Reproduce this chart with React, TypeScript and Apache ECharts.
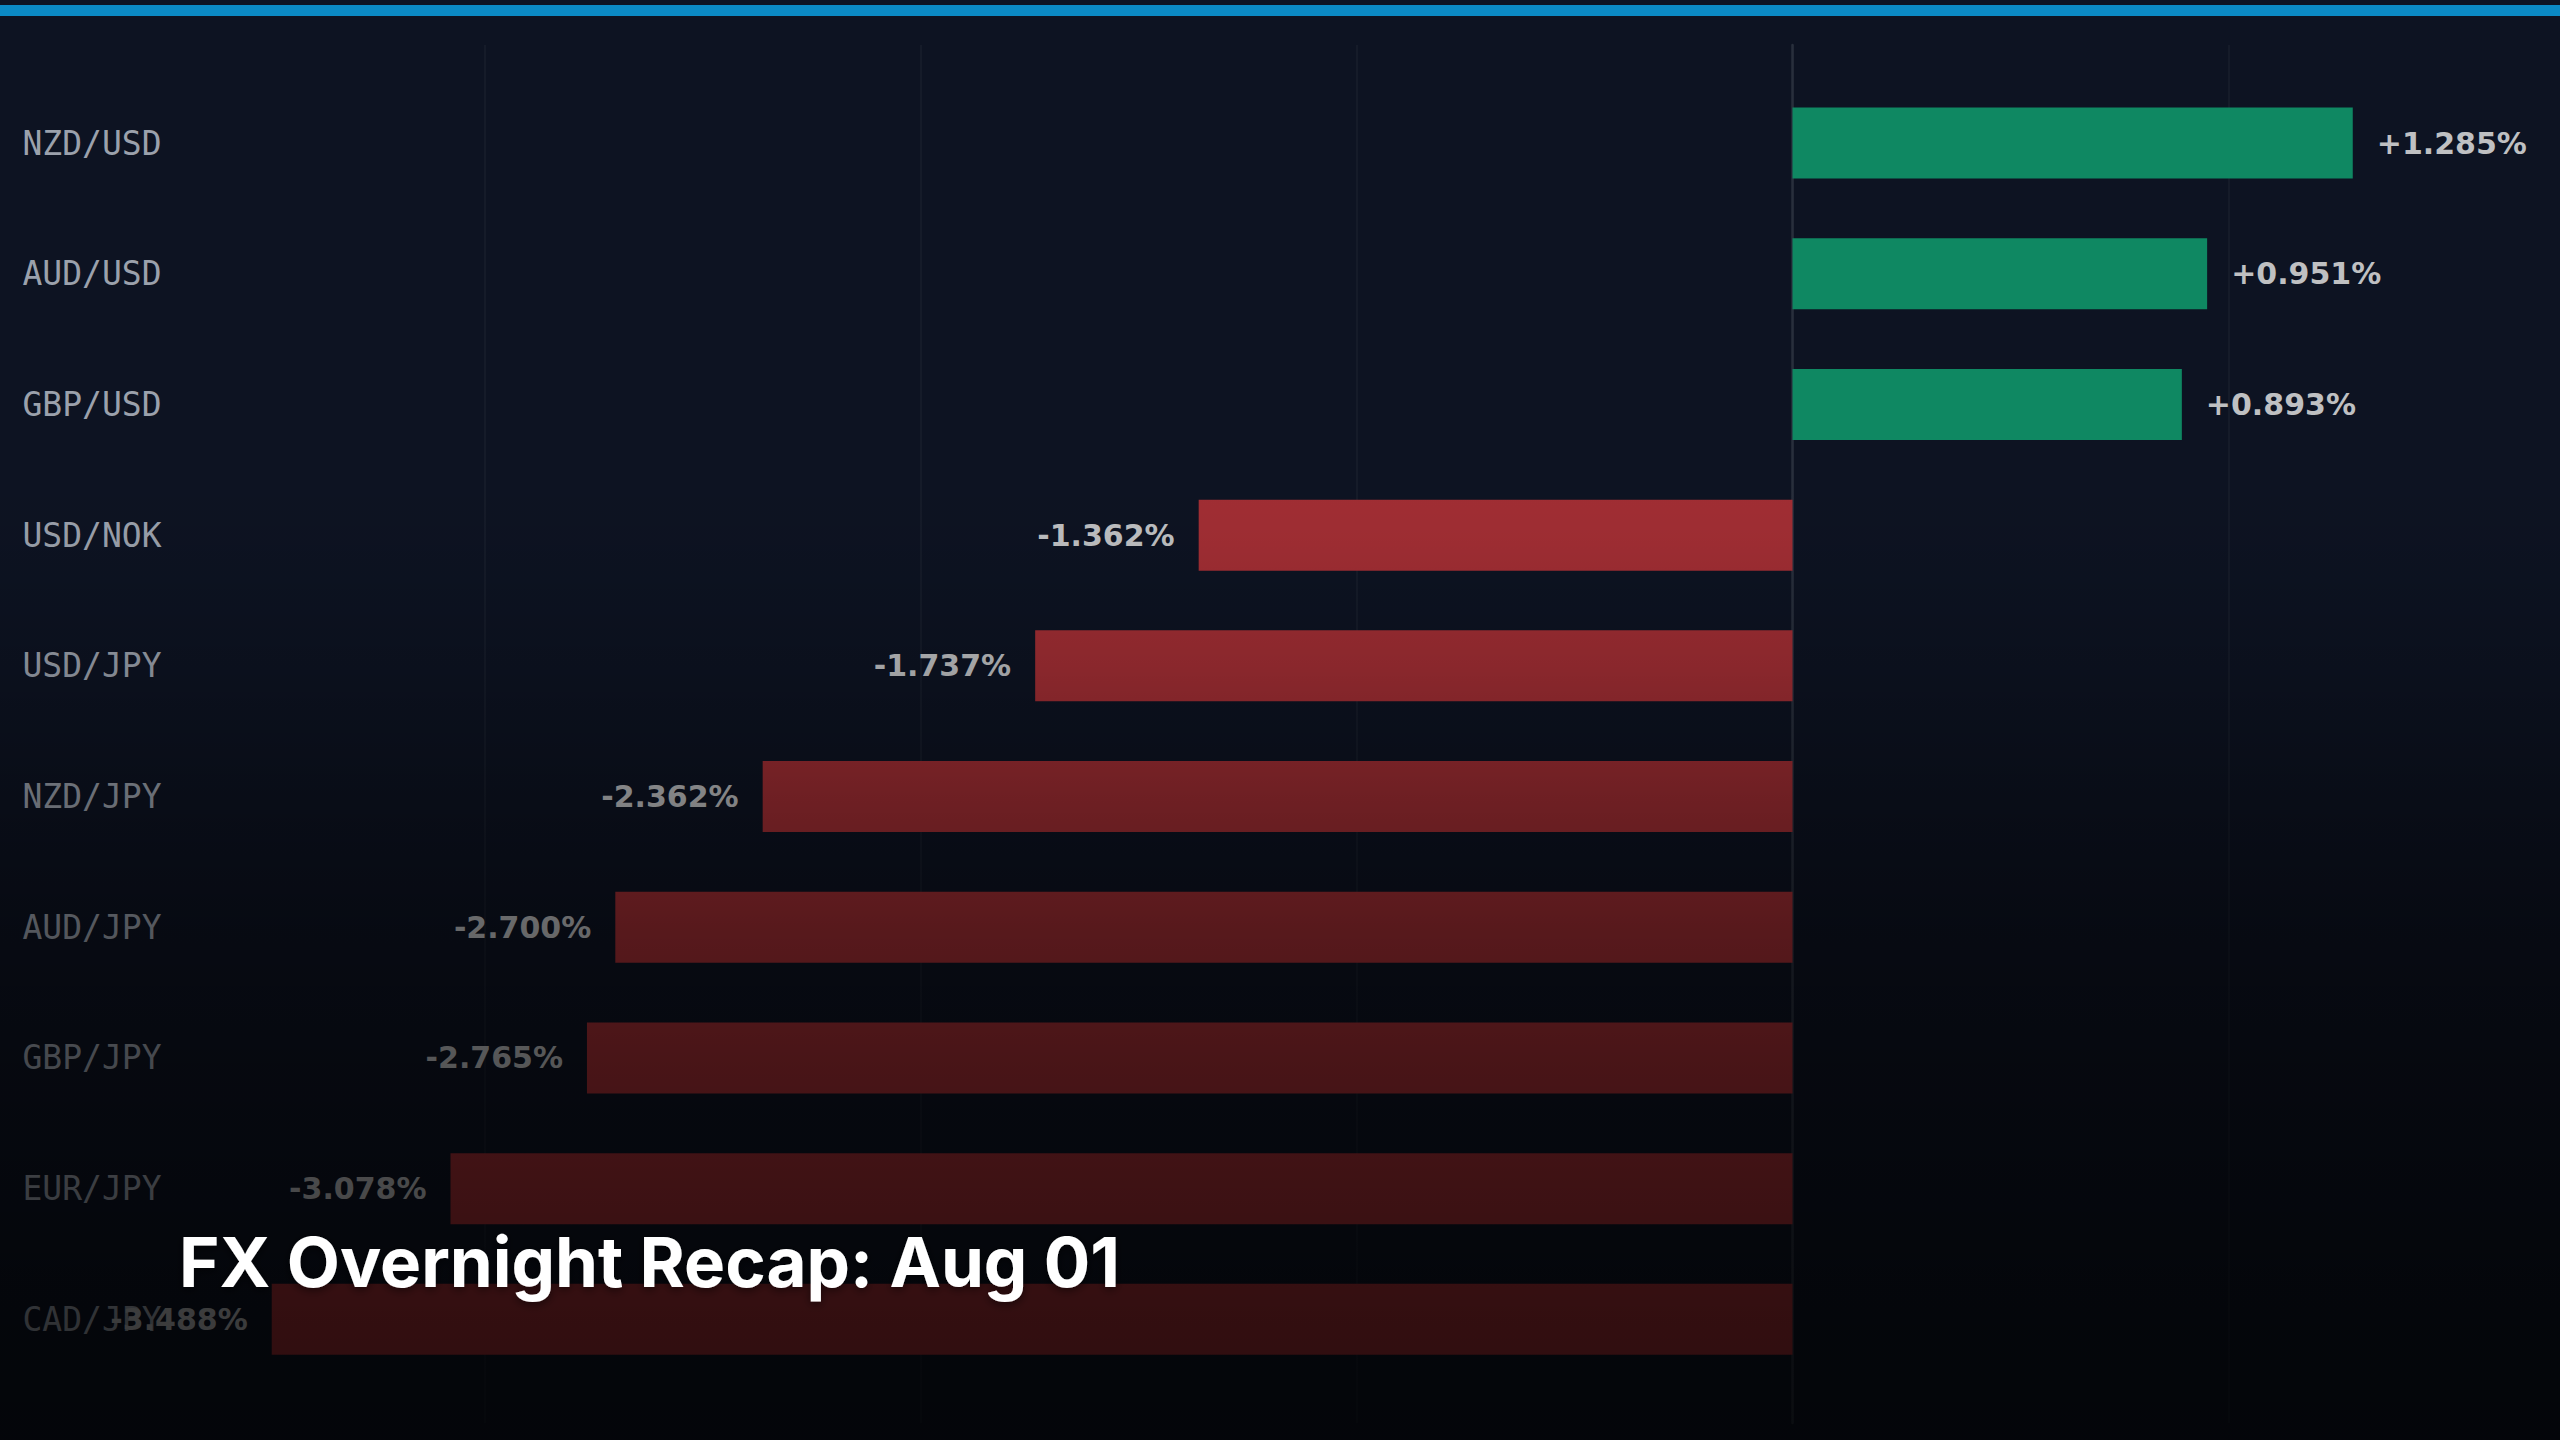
import React, { useEffect, useRef } from "react";
import * as echarts from "echarts";

const categories = [
  "NZD/USD",
  "AUD/USD",
  "GBP/USD",
  "USD/NOK",
  "USD/JPY",
  "NZD/JPY",
  "AUD/JPY",
  "GBP/JPY",
  "EUR/JPY",
  "CAD/JPY",
];
const changes = [1.285, 0.951, 0.893, -1.362, -1.737, -2.362, -2.7, -2.765, -3.078, -3.488];
const axisMin = -4;
const axisMax = 1.75;
const axisStep = 1;
const titleText = "FX Overnight Recap: Aug 01";

const GREEN = "#0f8862";
const RED = "#a22e34";

export default function App() {
  const ref = useRef<HTMLDivElement>(null);

  useEffect(() => {
    if (!ref.current) return;
    const chart = echarts.init(ref.current, null, { renderer: "svg" });

    const gridLeft = 48.5;
    const gridWidth = 2507;

    const option: any = {
      animation: false,
      backgroundColor: "#0d1322",
      grid: [
        { left: gridLeft, width: gridWidth, top: 77.7, height: 1307, containLabel: false },
        { left: gridLeft, width: gridWidth, top: 45, height: 1378, containLabel: false },
      ],
      xAxis: [
        {
          type: "value",
          gridIndex: 0,
          min: axisMin,
          max: axisMax,
          interval: axisStep,
          axisLine: { show: false },
          axisTick: { show: false },
          axisLabel: { show: false },
          splitLine: { show: false },
        },
        {
          type: "value",
          gridIndex: 1,
          min: axisMin,
          max: axisMax,
          interval: axisStep,
          axisLine: { show: false },
          axisTick: { show: false },
          axisLabel: { show: false },
          splitLine: {
            show: true,
            showMinLine: false,
            showMaxLine: false,
            lineStyle: { color: "rgba(255,255,255,0.035)", width: 2 },
          },
        },
      ],
      yAxis: [
        {
          type: "category",
          gridIndex: 0,
          data: categories,
          inverse: true,
          axisLine: { show: false },
          axisTick: { show: false },
          splitLine: { show: false },
          axisLabel: {
            show: true,
            align: "left",
            margin: 26,
            color: "#9ba1ac",
            fontFamily: "DejaVu Sans Mono",
            fontSize: 33,
          },
        },
        {
          type: "value",
          gridIndex: 1,
          min: 0,
          max: 1,
          axisLine: { show: true, onZero: true, lineStyle: { color: "#282f3c", width: 2.5 } },
          axisTick: { show: false },
          axisLabel: { show: false },
          splitLine: { show: false },
        },
      ],
      series: [
        {
          type: "bar",
          xAxisIndex: 0,
          yAxisIndex: 0,
          barWidth: 71,
          data: changes.map((v) => ({
            value: v,
            itemStyle: { color: v >= 0 ? GREEN : RED },
            label: { position: v >= 0 ? "right" : "left" },
          })),
          label: {
            show: true,
            distance: 24,
            color: "#bfc0c2",
            fontFamily: "DejaVu Sans",
            fontWeight: "bold",
            fontSize: 30,
            formatter: (p: any) => (p.value >= 0 ? "+" : "") + Number(p.value).toFixed(3) + "%",
          },
        },
      ],
      graphic: [
        {
          type: "rect",
          z: 50,
          silent: true,
          shape: { x: 0, y: 5, width: 2560, height: 11 },
          style: { fill: "#0b89c4" },
        },
        {
          type: "rect",
          z: 100,
          silent: true,
          shape: { x: 0, y: 460, width: 2560, height: 980 },
          style: {
            fill: {
              type: "linear",
              x: 0,
              y: 0,
              x2: 0,
              y2: 1,
              colorStops: [
                { offset: 0, color: "rgba(0,0,0,0)" },
                { offset: 0.077, color: "rgba(0,0,0,0.03)" },
                { offset: 0.21, color: "rgba(0,0,0,0.15)" },
                { offset: 0.344, color: "rgba(0,0,0,0.32)" },
                { offset: 0.478, color: "rgba(0,0,0,0.46)" },
                { offset: 0.61, color: "rgba(0,0,0,0.55)" },
                { offset: 0.744, color: "rgba(0,0,0,0.62)" },
                { offset: 0.878, color: "rgba(0,0,0,0.69)" },
                { offset: 1, color: "rgba(0,0,0,0.72)" },
              ],
            },
          },
        },
        {
          type: "text",
          z: 110,
          silent: true,
          x: 179,
          y: 1262,
          style: {
            text: titleText,
            fill: "#ffffff",
            fontFamily: "Inter",
            fontWeight: 700,
            fontSize: 69,
            verticalAlign: "middle",
            align: "left",
            textShadowBlur: 10,
            textShadowColor: "rgba(0,0,0,0.6)",
            textShadowOffsetY: 2,
          },
        },
      ],
    };

    chart.setOption(option);
    return () => chart.dispose();
  }, []);

  return (
    <div
      ref={ref}
      style={{ position: "fixed", left: 0, top: 0, width: 2560, height: 1440 }}
    />
  );
}
